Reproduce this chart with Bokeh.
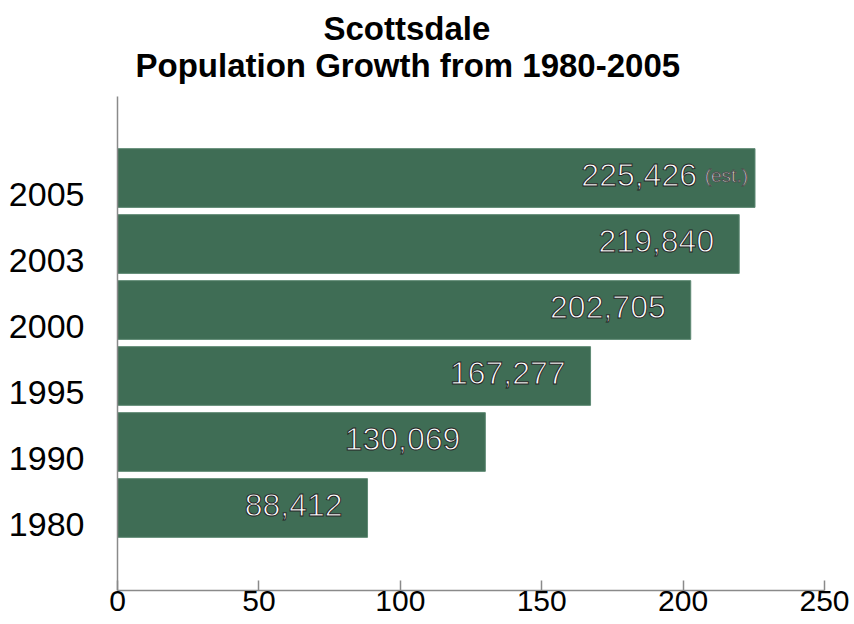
from bokeh.plotting import figure
from bokeh.models import ColumnDataSource, Range1d, FixedTicker, LabelSet, Title
from bokeh.core.properties import value
from bokeh.embed import file_html
from bokeh.resources import INLINE

# Scottsdale population by year
years = ["1980", "1990", "1995", "2000", "2003", "2005"]
population = [88412, 130069, 167277, 202705, 219840, 225426]
notes = ["", "", "", "", "", "(est.)"]

# x axis in thousands of residents
x_ticks = [0, 50, 100, 150, 200, 250]

title_line1 = "Scottsdale"
title_line2 = "Population Growth from 1980-2005"

FONT = "Liberation Sans"
BAR = "#3F6D55"
AXIS = "#8a8a8a"

pos = list(range(len(years)))
thousands = [v / 1000 for v in population]
value_text = [f"{v:,}" for v in population]
value_offset = [-58 if n else -25 for n in notes]

src = ColumnDataSource(dict(
    y=pos, x=thousands, label=value_text, note=notes, xoff=value_offset,
))

p = figure(width=854, height=624, output_backend="svg", toolbar_location=None,
           x_range=Range1d(0, 250), y_range=Range1d(-1.25, 6.235),
           min_border_left=117, min_border_right=30, min_border_top=96,
           min_border_bottom=34)
p.background_fill_color = "white"
p.border_fill_color = "white"
p.outline_line_color = None
p.grid.visible = False

p.hbar(y="y", right="x", left=0, height=0.89, source=src,
       fill_color=BAR, line_color="#5f8a74", line_width=1)

# x axis: ticks point inward
p.xaxis.ticker = FixedTicker(ticks=x_ticks)
p.xaxis.major_label_text_font = FONT
p.xaxis.major_label_text_font_size = "30px"
p.xaxis.major_label_text_color = "black"
p.xaxis.major_label_standoff = 0
p.xaxis.major_tick_in = 10
p.xaxis.major_tick_out = 0
p.xaxis.minor_tick_line_color = None
p.xaxis.axis_line_color = AXIS
p.xaxis.axis_line_width = 1.5
p.xaxis.major_tick_line_color = AXIS
p.xaxis.major_tick_line_width = 1.5

# y axis: year names sit a little below the middle of each bar
year_ticks = [i - 0.25 for i in pos]
p.yaxis.ticker = FixedTicker(ticks=year_ticks)
p.yaxis.major_label_overrides = {t: y for t, y in zip(year_ticks, years)}
p.yaxis.major_label_text_font = FONT
p.yaxis.major_label_text_font_size = "34px"
p.yaxis.major_label_text_color = "black"
p.yaxis.major_label_standoff = 27
p.yaxis.major_tick_line_color = None
p.yaxis.minor_tick_line_color = None
p.yaxis.axis_line_color = AXIS
p.yaxis.axis_line_width = 1.5

# value labels inside the bars
p.add_layout(LabelSet(x="x", y="y", text="label", source=src, x_offset="xoff", y_offset=3,
                      text_align="right", text_baseline="middle",
                      text_font=value(FONT), text_font_size=value("32px"), text_color="white",
                      text_outline_color="#262626"))
p.add_layout(LabelSet(x="x", y="y", text="note", source=src, x_offset=-7, y_offset=3,
                      text_align="right", text_baseline="middle",
                      text_font=value(FONT), text_font_size=value("19px"), text_color="white",
                      text_outline_color="#4d4d4d"))

# two-line heading
p.add_layout(Title(text=title_line2, align="left", offset=18, standoff=25,
                   text_font=FONT, text_font_size="33px", text_font_style="bold",
                   text_color="black"), "above")
p.add_layout(Title(text=title_line1, align="left", offset=206, standoff=-29,
                   text_font=FONT, text_font_size="33px", text_font_style="bold",
                   text_color="black"), "above")

open("out.html", "w").write(file_html(p, INLINE))
